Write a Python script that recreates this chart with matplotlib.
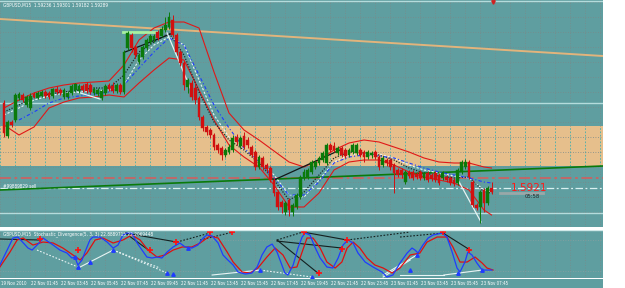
import matplotlib
matplotlib.use("Agg")
import matplotlib.pyplot as plt
from matplotlib.transforms import blended_transform_factory
from matplotlib.patches import Rectangle
import numpy as np

W, H = 625, 288
BG = "#5f9ea0"
SMALL = dict(family=["DejaVu Sans"], fontstretch="condensed")

# ---------------- data: M15 candles (bar index 0..130) ----------------
bar_open = [1.6006,1.5973,1.5987,1.5989,1.6011,1.6014,1.6004,1.6001,1.6015,1.6011,
            1.6013,1.6017,1.6016,1.6013,1.6020,1.6019,1.6012,1.6012,1.6016,1.6019,
            1.6018,1.6023,1.6025,1.6024,1.6016,1.6015,1.6011,1.6016,1.6024,1.6023,
            1.6018,1.6024,1.6017,1.6061,1.6074,1.6062,1.6047,1.6052,1.6061,1.6067,
            1.6069,1.6077,1.6073,1.6079,1.6082,1.6089,1.6074,1.6057,1.6046,1.6022,
            1.6026,1.6021,1.6011,1.5992,1.5982,1.5979,1.5974,1.5964,1.5961,1.5954,
            1.5957,1.5959,1.5972,1.5963,1.5973,1.5969,1.5962,1.5957,1.5942,1.5951,
            1.5944,1.5941,1.5929,1.5917,1.5907,1.5897,1.5909,1.5897,1.5902,1.5912,
            1.5931,1.5932,1.5937,1.5942,1.5946,1.5949,1.5946,1.5964,1.5963,1.5956,
            1.5961,1.5959,1.5954,1.5957,1.5956,1.5959,1.5957,1.5952,1.5954,1.5957,
            1.5952,1.5944,1.5949,1.5949,1.5944,1.5939,1.5939,1.5927,1.5937,1.5937,
            1.5935,1.5937,1.5931,1.5936,1.5934,1.5936,1.5934,1.5931,1.5932,1.5931,
            1.5929,1.5926,1.5937,1.5942,1.5947,1.5927,1.5904,1.5902,1.5919,1.5906,
            1.5921]
bar_high = [1.6009,1.5989,1.5989,1.6016,1.6017,1.6016,1.6014,1.6016,1.6017,1.6018,
            1.6019,1.6019,1.6018,1.6021,1.6023,1.6021,1.6021,1.6018,1.6025,1.6026,
            1.6025,1.6025,1.6027,1.6026,1.6022,1.6021,1.6020,1.6025,1.6026,1.6027,
            1.6026,1.6026,1.6059,1.6078,1.6076,1.6064,1.6056,1.6064,1.6071,1.6075,
            1.6075,1.6079,1.6083,1.6092,1.6097,1.6094,1.6076,1.6059,1.6048,1.6031,
            1.6029,1.6025,1.6013,1.5994,1.5984,1.5981,1.5976,1.5966,1.5963,1.5961,
            1.5965,1.5974,1.5975,1.5973,1.5977,1.5972,1.5964,1.5959,1.5954,1.5953,
            1.5946,1.5943,1.5931,1.5919,1.5909,1.5908,1.5911,1.5906,1.5916,1.5934,
            1.5940,1.5941,1.5949,1.5949,1.5953,1.5958,1.5966,1.5966,1.5967,1.5963,
            1.5963,1.5961,1.5961,1.5966,1.5966,1.5961,1.5959,1.5959,1.5958,1.5959,
            1.5954,1.5953,1.5951,1.5951,1.5946,1.5941,1.5941,1.5939,1.5939,1.5939,
            1.5937,1.5939,1.5937,1.5938,1.5936,1.5938,1.5936,1.5938,1.5934,1.5933,
            1.5931,1.5941,1.5949,1.5950,1.5949,1.5929,1.5906,1.5919,1.5921,1.5923,
            1.5927]
bar_low = [1.5972,1.5971,1.5982,1.5987,1.6009,1.6007,1.6002,1.5999,1.6011,1.6010,
           1.6012,1.6011,1.6010,1.6011,1.6015,1.6014,1.6010,1.6010,1.6014,1.6017,
           1.6016,1.6017,1.6016,1.6015,1.6014,1.6013,1.6009,1.6014,1.6018,1.6016,
           1.6016,1.6015,1.6015,1.6059,1.6057,1.6051,1.6045,1.6050,1.6059,1.6065,
           1.6067,1.6069,1.6072,1.6077,1.6080,1.6072,1.6054,1.6043,1.6019,1.6016,
           1.6009,1.6005,1.5989,1.5978,1.5974,1.5971,1.5959,1.5956,1.5949,1.5952,
           1.5955,1.5957,1.5964,1.5961,1.5960,1.5961,1.5952,1.5939,1.5940,1.5939,
           1.5937,1.5927,1.5913,1.5899,1.5896,1.5894,1.5893,1.5893,1.5900,1.5910,
           1.5929,1.5930,1.5935,1.5940,1.5944,1.5947,1.5944,1.5957,1.5957,1.5954,
           1.5952,1.5951,1.5952,1.5955,1.5954,1.5952,1.5947,1.5950,1.5951,1.5950,
           1.5939,1.5942,1.5943,1.5939,1.5916,1.5932,1.5931,1.5925,1.5931,1.5929,
           1.5930,1.5929,1.5929,1.5927,1.5928,1.5927,1.5924,1.5929,1.5927,1.5924,
           1.5923,1.5924,1.5935,1.5940,1.5930,1.5902,1.5899,1.5886,1.5897,1.5904,
           1.5915]
bar_close = [1.5976,1.5987,1.5984,1.6014,1.6015,1.6009,1.6012,1.6013,1.6012,1.6016,
             1.6017,1.6013,1.6012,1.6020,1.6017,1.6016,1.6019,1.6016,1.6023,1.6025,
             1.6023,1.6019,1.6018,1.6017,1.6020,1.6019,1.6018,1.6023,1.6020,1.6018,
             1.6024,1.6017,1.6057,1.6076,1.6061,1.6054,1.6054,1.6062,1.6069,1.6073,
             1.6073,1.6071,1.6080,1.6084,1.6092,1.6074,1.6057,1.6046,1.6024,1.6029,
             1.6012,1.6009,1.5992,1.5981,1.5977,1.5974,1.5962,1.5959,1.5954,1.5959,
             1.5962,1.5971,1.5967,1.5971,1.5962,1.5964,1.5954,1.5942,1.5952,1.5942,
             1.5940,1.5929,1.5916,1.5902,1.5902,1.5906,1.5899,1.5904,1.5914,1.5932,
             1.5937,1.5939,1.5947,1.5947,1.5951,1.5956,1.5964,1.5959,1.5959,1.5961,
             1.5954,1.5953,1.5959,1.5964,1.5964,1.5954,1.5952,1.5957,1.5956,1.5952,
             1.5942,1.5951,1.5946,1.5942,1.5936,1.5934,1.5934,1.5937,1.5933,1.5931,
             1.5932,1.5931,1.5935,1.5929,1.5930,1.5929,1.5926,1.5936,1.5929,1.5926,
             1.5925,1.5939,1.5947,1.5947,1.5932,1.5904,1.5901,1.5917,1.5906,1.5921,
             1.5917]

# ---------------- indicator lines on the price chart (sampled) ----------------
ma_bars = [0,4,8,12,16,20,24,28,32,36,40,44,48,52,56,60,64,68,72,76,80,84,88,92,96,100,
           104,108,112,116,120,124,128,130]
band_upper = [1.6001,1.6009,1.6016,1.6021,1.6024,1.6026,1.6027,1.6028,1.6044,1.6069,1.6081,
              1.6087,1.6087,1.6081,1.6037,1.5996,1.5979,1.5969,1.5958,1.5947,1.5942,1.5949,
              1.5959,1.5966,1.5969,1.5967,1.5962,1.5957,1.5951,1.5947,1.5946,1.5946,1.5942,1.5941]
band_lower = [1.5984,1.5974,1.5982,1.6001,1.6007,1.6011,1.6012,1.6014,1.6012,1.6026,1.6039,
              1.6051,1.6049,1.6019,1.5989,1.5964,1.5952,1.5942,1.5924,1.5902,1.5902,1.5916,
              1.5939,1.5947,1.5949,1.5949,1.5944,1.5937,1.5932,1.5929,1.5926,1.5919,1.5899,1.5894]
ma_dark = [1.5997,1.6004,1.6012,1.6015,1.6017,1.6019,1.6021,1.6021,1.6034,1.6057,1.6067,
           1.6076,1.6054,1.6017,1.5987,1.5969,1.5959,1.5946,1.5929,1.5909,1.5917,1.5934,
           1.5951,1.5957,1.5956,1.5954,1.5949,1.5941,1.5936,1.5933,1.5931,1.5932,1.5917,1.5916]
ma_light = [1.5994,1.6001,1.6009,1.6013,1.6016,1.6017,1.6018,1.6019,1.6024,1.6049,1.6064,
            1.6072,1.6064,1.6029,1.5994,1.5972,1.5959,1.5949,1.5934,1.5914,1.5912,1.5929,
            1.5947,1.5954,1.5955,1.5955,1.5951,1.5944,1.5939,1.5936,1.5933,1.5931,1.5919,1.5917]
ma_blue_bars = ma_bars[1:]
ma_blue = [1.5989,1.5997,1.6006,1.6011,1.6013,1.6015,1.6017,1.6024,1.6041,1.6057,1.6071,
           1.6064,1.6034,1.6004,1.5981,1.5961,1.5947,1.5931,1.5914,1.5914,1.5927,1.5946,
           1.5952,1.5954,1.5953,1.5951,1.5946,1.5941,1.5937,1.5934,1.5931,1.5927,1.5926]

# trend lines / levels on the price chart
orange_trend = ([-1.07, 159.7], [1.6090, 1.6053])
green_trend = ([-1.07, 159.7], [1.5919, 1.5943])
zone_low, zone_high = 1.5943, 1.5983
level_lines = [1.6108, 1.6006, 1.5896]
red_level = 1.5931
bid_level = 1.5921
seg_lightgreen = ([31.7, 40.8], [1.6077, 1.6077])
seg_black = [([32.3, 45.1], [1.6057, 1.6076]), ([72.0, 89.6], [1.5929, 1.5959])]
seg_white = [([43.5, 50.1], [1.6076, 1.6017]), ([19.5, 25.6], [1.6017, 1.6010]),
             ([120.5, 127.2], [1.5933, 1.5887])]

# ---------------- stochastic divergence (5,3,3) ----------------
stoch_k_bars = [-1.1,2.4,3.7,6.4,7.5,9.6,10.4,13.1,14.9,16.8,18.1,18.9,19.7,20.8,21.6,22.9,23.7,
                25.6,27.5,29.1,30.4,31.7,32.8,34.1,35.5,36.8,38.1,39.5,40.8,42.1,43.5,45.1,46.9,
                48.3,50.1,51.7,53.1,54.1,55.5,57.1,58.4,59.7,61.1,62.4,64.3,66.1,67.5,68.8,70.1,
                71.5,72.8,74.1,74.9,75.7,77.1,78.4,79.5,80.3,81.6,82.9,84.3,86.1,87.7,89.1,90.4,
                91.7,93.1,94.4,96.3,98.4,100.8,102.1,103.7,105.6,107.5,108.8,109.6,110.4,111.7,
                113.1,114.4,116.8,118.1,119.5,120.8,121.6,122.9,123.7,124.8,126.1,127.5,128.8,130.1]
stoch_k = [31.6,83.9,85.8,64.5,60.6,76.1,83.9,70.3,60.6,54.8,45.2,47.1,31.6,41.3,56.8,80.0,85.8,
           85.8,76.1,64.5,70.3,89.7,93.5,93.5,74.2,60.6,47.1,45.2,47.1,45.2,56.8,66.5,74.2,
           66.5,64.5,70.3,83.9,89.7,87.8,74.2,51.0,41.3,31.6,18.1,14.2,16.1,27.8,51.0,66.5,
           72.2,56.8,31.6,16.1,12.3,31.6,64.5,85.8,93.5,89.7,66.5,45.2,27.8,25.8,45.2,70.3,
           80.0,74.2,54.8,37.4,27.8,18.1,8.4,12.3,35.5,54.8,64.5,60.6,54.8,70.3,
           83.9,89.7,93.5,85.8,56.8,25.8,18.1,37.4,56.8,51.0,35.5,21.9,21.9,21.9]
stoch_d_bars = [-1.1,1.6,3.5,5.1,7.7,10.4,13.1,15.7,18.4,20.3,22.1,24.3,26.4,29.1,31.7,34.1,36.3,
                38.4,40.8,42.9,45.1,47.5,50.1,52.3,54.9,57.1,59.5,61.1,63.5,65.6,67.7,70.1,72.3,
                74.4,76.3,78.1,79.5,80.8,82.4,84.3,86.1,88.3,90.1,91.5,93.1,94.9,96.8,98.9,101.1,
                103.5,105.6,108.3,110.9,112.8,115.5,118.1,119.7,121.6,123.5,125.6,127.5,128.8,130.4]
stoch_d = [27.8,56.8,80.0,83.9,70.3,76.1,74.2,64.5,51.0,41.3,54.8,80.0,83.9,74.2,80.0,89.7,80.0,
           60.6,47.1,51.0,60.6,66.5,66.5,74.2,87.8,83.9,56.8,37.4,18.1,16.1,25.8,47.1,64.5,
           51.0,25.8,27.8,56.8,83.9,83.9,64.5,37.4,25.8,37.4,64.5,76.1,64.5,45.2,31.6,25.8,
           16.1,25.8,51.0,54.8,76.1,85.8,85.8,66.5,37.4,37.4,47.1,35.5,25.8,21.9]
stoch_levels = [80, 20]
peak_marks = ([9.6,19.7,38.9,45.9,54.9,60.8,80.0,91.5,90.1,84.0,117.1,124.0],
              [82,60.6,60.6,76.0,95.5,95.5,95.5,80.0,62.6,16.0,95.5,60.6])
trough_marks = ([18.9,19.7,22.9,29.1,43.5,45.1,49.0,68.3,82.1,108.3,110.1,121.1,127.5],
                [47.0,27.8,37.4,60.6,16.1,14.2,64.5,21.9,8.4,21.9,51.0,16.1,21.9])
div_dark_solid = [([-1.1, 9.6], [82, 80]), ([32.3, 46.1], [93.5, 76.1]), ([32.3, 38.9], [93.5, 58.7]),
                  ([72.8, 83.7], [80, 16.1]), ([79.7, 91.5], [95.5, 80]), ([72.8, 90.1], [78, 64.5]),
                  ([117.1, 124.3], [93.5, 60.6])]
div_dark_dot = [([46.1, 54.9], [76.1, 93.5]), ([52.3, 61.1], [80, 95.5]), ([72.8, 79.7], [80, 95.5]),
                ([91.5, 108.3], [80, 95.5]), ([105.6, 117.1], [85.8, 93.5])]
div_white_solid = [([20.3, 29.1], [27.8, 60.6]), ([55.5, 68.3], [12.3, 21.9]), ([101.1, 108.3], [8.4, 41.3]),
                   ([101.1, 110.1], [12.3, 51.0]), ([105.6, 117.3], [12.3, 12.3]), ([117.3, 127.5], [12.3, 21.9])]
div_white_dot = [([8.8, 19.7], [60.6, 27.8]), ([29.1, 43.5], [60.6, 16.1]), ([29.1, 41.6], [60.6, 25.8]),
                 ([68.3, 82.1], [21.9, 8.4])]

time_labels = ["19 Nov 2010", "22 Nov 01:45", "22 Nov 03:45", "22 Nov 05:45", "22 Nov 07:45",
               "22 Nov 09:45", "22 Nov 11:45", "22 Nov 13:45", "22 Nov 15:45", "22 Nov 17:45",
               "22 Nov 19:45", "22 Nov 21:45", "22 Nov 23:45", "23 Nov 01:45", "23 Nov 03:45",
               "23 Nov 05:45", "23 Nov 07:45"]
time_label_bars = [8 * k - 0.8 for k in range(len(time_labels))]

header_text = "GBPUSD,M15  1.59236 1.59301 1.59182 1.59289"
ind_header = "GBPUSD,M15  Stochastic_Divergence(5, 3, 3) 22.8889715 22.2069448"
order_label = "#99889829 sell"
price_label = "1.5921"
timer_label = "05:58"

# ---------------- figure ----------------
fig = plt.figure(figsize=(W / 100, H / 100), dpi=100, facecolor="white")

def fr(x0, y0, x1, y1):
    return [x0 / W, 1 - y1 / H, (x1 - x0) / W, (y1 - y0) / H]

XMIN, XMAX = -1.067, 159.73
ax = fig.add_axes(fr(0, 0, 603, 227))
axi = fig.add_axes(fr(0, 230, 603, 278))
fig.patches.append(Rectangle((0, 0), 603 / W, 9.5 / H, transform=fig.transFigure,
                             facecolor=BG, edgecolor="none", zorder=0))

for a in (ax, axi):
    a.set_facecolor(BG)
    a.set_xlim(XMIN, XMAX)
    for s in a.spines.values():
        s.set_visible(False)
    a.set_xticks([])
    a.set_yticks([])

ax.set_ylim(1.5882, 1.6109)
axi.set_ylim(6.5, 99.4)

vgrid = np.arange(-1, 160, 4)
hgrid = 1.6107 - 0.0015 * np.arange(15)

# orange zone
ax.axhspan(zone_low, zone_high, color="#e6bf8c", zorder=0.5, lw=0)
for gx in vgrid:
    ax.plot([gx, gx], [ax.get_ylim()[0], zone_low], color="#7a8a8a", lw=0.6, ls=(0, (1, 2)), zorder=0.6)
    ax.plot([gx, gx], [zone_high, ax.get_ylim()[1]], color="#7a8a8a", lw=0.6, ls=(0, (1, 2)), zorder=0.6)
    ax.plot([gx, gx], [zone_low, zone_high], color="#3fb0b0", lw=0.6, ls=(0, (2, 2)), zorder=0.6)
    axi.axvline(gx, color="#7a8a8a", lw=0.6, ls=(0, (1, 2)), zorder=0.6)
for gy in hgrid:
    ax.axhline(gy, color="#7a8a8a", lw=0.6, ls=(0, (1, 2)), zorder=0.6)

# levels
for lv in level_lines:
    ax.axhline(lv, color="#b4dcdc", lw=1.0, zorder=1)
ax.axhline(red_level, color="#c86464", lw=1.3, ls=(0, (6, 2, 1.5, 2)), zorder=1)
ax.axhline(bid_level, color="#d8f0f0", lw=0.9, ls=(0, (6, 2, 1.5, 2)), zorder=1)
ax.plot(*orange_trend, color="#e2b47c", lw=1.4, zorder=1.2)
ax.plot(*green_trend, color="#0a7a0a", lw=1.2, zorder=1.2)

# moving averages / bands
ax.plot(ma_bars, band_upper, color="#e01818", lw=0.8, zorder=2)
ax.plot(ma_bars, band_lower, color="#e01818", lw=0.8, zorder=2)
ax.plot(ma_bars, ma_light, color="#e8f4f4", lw=0.8, ls=(0, (2, 1.5)), zorder=2)
ax.plot(ma_bars, ma_dark, color="#1c2c2c", lw=0.9, ls=(0, (1, 1.2)), zorder=2)
ax.plot(ma_blue_bars, ma_blue, color="#1f3cff", lw=0.8, ls=(0, (3, 2, 1, 2)), zorder=2)

ax.plot(*seg_lightgreen, color="#a8f0a0", lw=2.0, zorder=2.5)
for sx, sy in seg_black:
    ax.plot(sx, sy, color="#101818", lw=0.9, zorder=2.5)
for sx, sy in seg_white:
    ax.plot(sx, sy, color="#e8f4f4", lw=0.9, zorder=2.5)

# candles
for i, (o, h, l, c) in enumerate(zip(bar_open, bar_high, bar_low, bar_close)):
    col = "#0a7a0a" if c >= o else "#d01010"
    ax.plot([i, i], [l, h], color=col, lw=0.7, zorder=3, solid_capstyle="butt")
    ax.add_patch(Rectangle((i - 0.34, min(o, c)), 0.68, max(abs(c - o), 0.00008),
                           facecolor=col, edgecolor=col, lw=0.3, zorder=3.1))

# small arrow at top
ax.plot([130.3], [1.6107], marker="v", color="#d02020", ms=2.5, zorder=4)

# indicator
for lv in stoch_levels:
    axi.axhline(lv, color="#8aa0a0", lw=0.6, ls=(0, (1, 2)), zorder=0.7)
for sx, sy in div_white_dot:
    axi.plot(sx, sy, color="#e8f4f4", lw=0.8, ls=(0, (1.5, 1.5)), zorder=1.5)
for sx, sy in div_white_solid:
    axi.plot(sx, sy, color="#e8f4f4", lw=0.8, zorder=1.5)
for sx, sy in div_dark_dot:
    axi.plot(sx, sy, color="#142020", lw=0.8, ls=(0, (1.5, 1.5)), zorder=1.5)
for sx, sy in div_dark_solid:
    axi.plot(sx, sy, color="#142020", lw=0.8, zorder=1.5)
axi.plot(stoch_d_bars, stoch_d, color="#e01010", lw=0.9, zorder=2)
axi.plot(stoch_k_bars, stoch_k, color="#1f3cff", lw=0.9, zorder=2.1)
axi.plot(*peak_marks, ls="none", marker="+", color="#ff1010", ms=4, mew=1.2, zorder=3)
axi.plot(*trough_marks, ls="none", marker="^", color="#1f3cff", ms=2.5, zorder=3)
axi.axhline(99.4, color="#d0e8e8", lw=1.0, zorder=3)

# texts
fig.text(3 / W, 1 - 5 / H, header_text, color="white", fontsize=3.4, va="center", **SMALL)
fig.text(3 / W, 1 - 234.5 / H, ind_header, color="white", fontsize=3.4, va="center", **SMALL)
fig.text(3 / W, 1 - 186 / H, order_label, color="white", fontsize=3.4, va="center", **SMALL)
fig.text(511 / W, 1 - 188 / H, price_label, color="#ff1818", fontsize=7.6, va="center")
fig.text(525 / W, 1 - 197 / H, timer_label, color="#202828", fontsize=4.2, va="center", **SMALL)
fig.add_artist(plt.Line2D([500 / W, 543 / W], [1 - 193 / H, 1 - 193 / H], color="#9aa8a8", lw=2))

tr = blended_transform_factory(axi.transData, fig.transFigure)
for b, t in zip(time_label_bars, time_labels):
    fig.text(b, 1 - 283.5 / H, t, transform=tr, color="white", fontsize=3.25,
             va="center", ha="left", **SMALL)

fig.savefig("out.png", dpi=100, facecolor="white")
